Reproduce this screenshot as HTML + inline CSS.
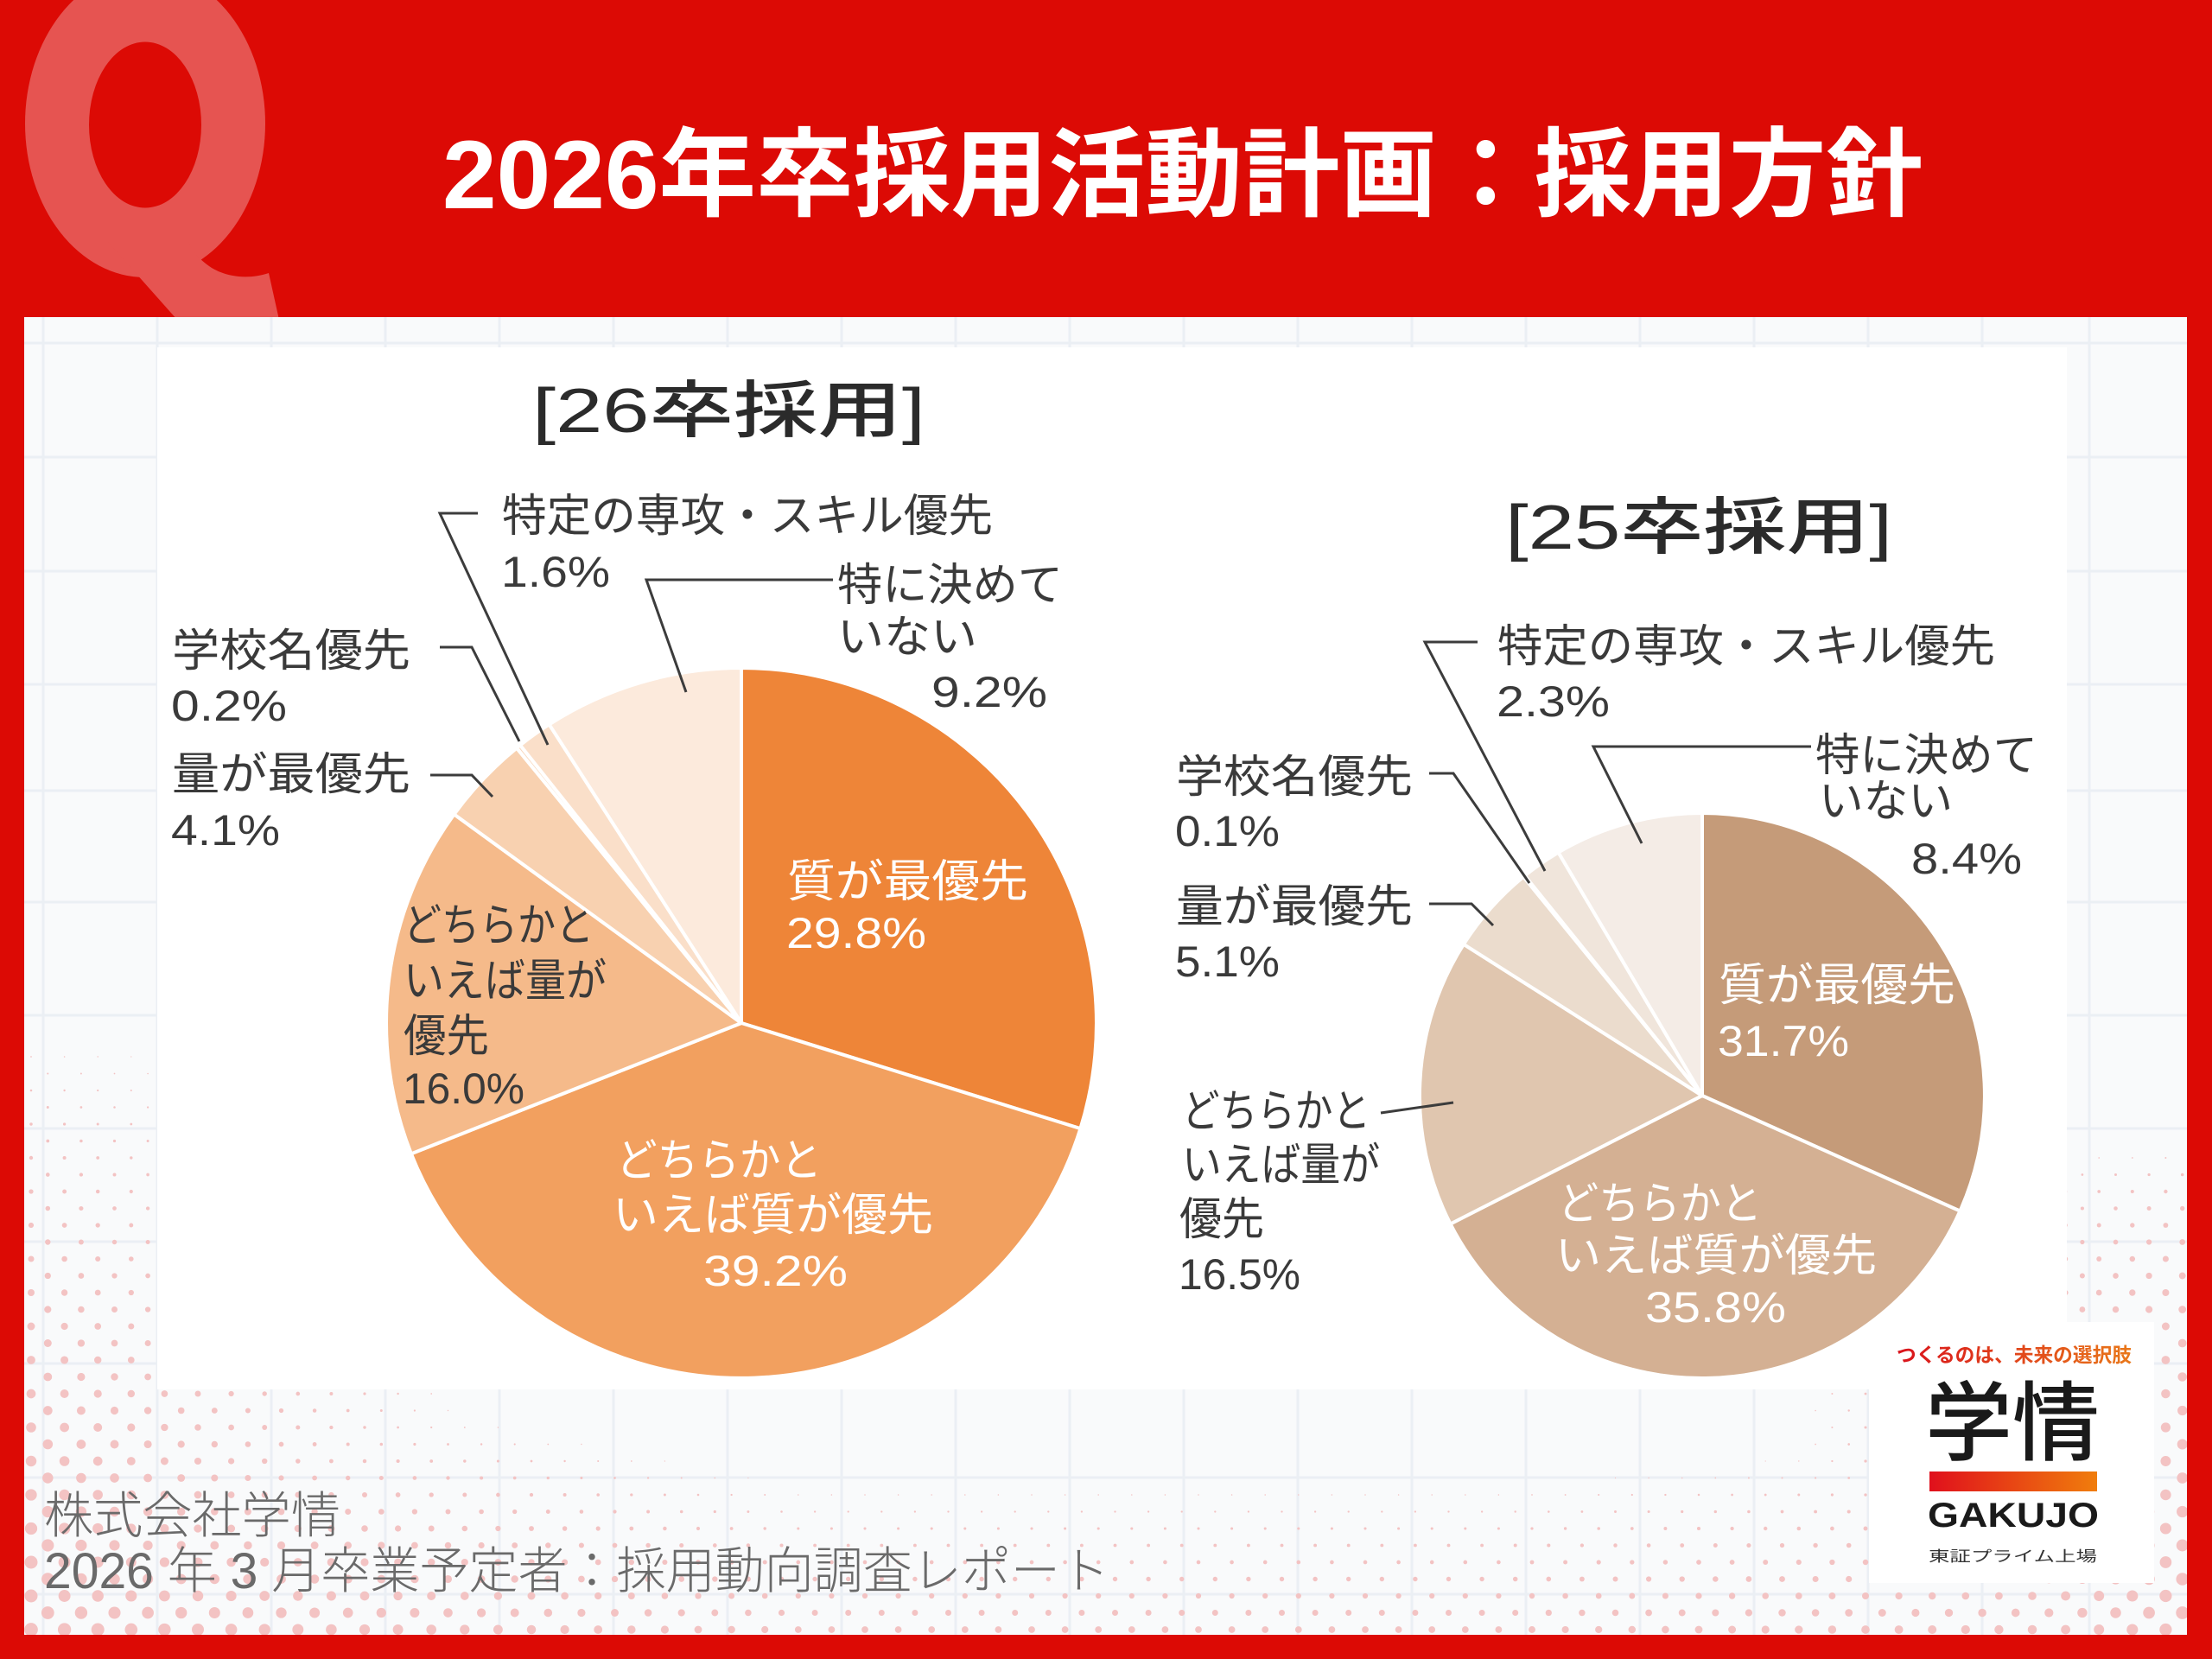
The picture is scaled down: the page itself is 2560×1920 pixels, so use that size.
<!DOCTYPE html>
<html><head><meta charset="utf-8">
<style>
html,body{margin:0;padding:0;background:#dc0a05;}
svg{display:block;}
text{font-family:"Liberation Sans","Noto Sans CJK JP",sans-serif;}
.l{font-size:52px;fill:#3a3a3a;}
.n{font-size:50px;fill:#3a3a3a;}
.w{fill:#ffffff;}
</style></head>
<body>
<svg id="s" width="2560" height="1920" viewBox="0 0 2560 1920" xmlns="http://www.w3.org/2000/svg">
<defs>
<linearGradient id="gbar" x1="0" x2="1" y1="0" y2="0"><stop offset="0" stop-color="#e0101c"/><stop offset="1" stop-color="#f07d0c"/></linearGradient>
<linearGradient id="gtag" x1="0" x2="1" y1="0" y2="0"><stop offset="0" stop-color="#d9121c"/><stop offset="1" stop-color="#e9781a"/></linearGradient>
<clipPath id="panel"><rect x="28" y="367" width="2503" height="1525"/></clipPath>
</defs>
<rect width="2560" height="1920" fill="#dc0a05"/>
<!-- Q -->
<ellipse cx="168" cy="143" rx="139" ry="178" fill="#e65451"/>
<path d="M125,280 L205,370 L323,370 L311,316 C290,323 265,322 245,310 C230,300 222,290 218,280 Z" fill="#e65451"/>
<ellipse cx="168" cy="144.5" rx="65" ry="96" fill="#dc0a05"/>
<text x="512" y="241" font-size="112" font-weight="700" fill="#ffffff" textLength="1714" lengthAdjust="spacingAndGlyphs">2026年卒採用活動計画：採用方針</text>

<!-- panel -->
<rect x="28" y="367" width="2503" height="1525" fill="#f9fafb"/>
<g clip-path="url(#panel)" stroke="#ebeff4" stroke-width="3">
<path d="M50,367V1892M182,367V1892M314,367V1892M446,367V1892M578,367V1892M710,367V1892M842,367V1892M974,367V1892M1106,367V1892M1238,367V1892M1370,367V1892M1502,367V1892M1634,367V1892M1766,367V1892M1898,367V1892M2030,367V1892M2162,367V1892M2294,367V1892M2418,367V1892"/>
<path d="M28,397H2531M28,529H2531M28,661H2531M28,792H2531M28,915H2531M28,1044H2531M28,1175H2531M28,1306H2531M28,1437H2531M28,1578H2531M28,1710H2531M28,1845H2531"/>
</g>
<g id="dots" fill="#f3c3c3" clip-path="url(#panel)"></g>

<!-- chart area -->
<rect x="182" y="402" width="2210" height="1206" fill="#ffffff"/>

<!-- Pie 1 -->
<g stroke="#ffffff" stroke-width="4" stroke-linejoin="round">
<path d="M858,1184 L858,773 A411,411 0 0 1 1250.4,1306.1 Z" fill="#ee8538"/>
<path d="M858,1184 L1250.4,1306.1 A411,411 0 0 1 475.9,1335.3 Z" fill="#f2a05f"/>
<path d="M858,1184 L475.9,1335.3 A411,411 0 0 1 525.5,942.4 Z" fill="#f5ba8a"/>
<path d="M858,1184 L525.5,942.4 A411,411 0 0 1 598,865.7 Z" fill="#f8d1b0"/>
<path d="M858,1184 L598,865.7 A411,411 0 0 1 602,862.4 Z" fill="#f9d9bf"/>
<path d="M858,1184 L602,862.4 A411,411 0 0 1 635.6,838.4 Z" fill="#fadfc9"/>
<path d="M858,1184 L635.6,838.4 A411,411 0 0 1 858,773 Z" fill="#fceadc"/>
</g>
<g stroke="#3c3c3c" stroke-width="3" fill="none">
<path d="M553,594 L509,594 L634,862"/>
<path d="M964,671 L748,671 L794,801"/>
<path d="M509,749 L546,749 L601,858"/>
<path d="M498,897 L546,897 L570,922"/>
</g>
<text x="616" y="500" font-size="72" font-weight="500" fill="#2b2b2b" textLength="455" lengthAdjust="spacingAndGlyphs">[26卒採用]</text>
<text class="l" x="581" y="615" textLength="568" lengthAdjust="spacingAndGlyphs">特定の専攻・スキル優先</text>
<text class="n" x="580" y="679" textLength="126" lengthAdjust="spacingAndGlyphs">1.6%</text>
<text class="l" x="969" y="695" textLength="261" lengthAdjust="spacingAndGlyphs">特に決めて</text>
<text class="l" x="969" y="755" textLength="162" lengthAdjust="spacingAndGlyphs">いない</text>
<text class="n" x="1078" y="818" textLength="134" lengthAdjust="spacingAndGlyphs">9.2%</text>
<text class="l" x="199" y="771" textLength="276" lengthAdjust="spacingAndGlyphs">学校名優先</text>
<text class="n" x="198" y="834" textLength="134" lengthAdjust="spacingAndGlyphs">0.2%</text>
<text class="l" x="199" y="914" textLength="276" lengthAdjust="spacingAndGlyphs">量が最優先</text>
<text class="n" x="198" y="978" textLength="126" lengthAdjust="spacingAndGlyphs">4.1%</text>
<text class="l w" x="911" y="1038" textLength="279" lengthAdjust="spacingAndGlyphs">質が最優先</text>
<text class="n w" x="910" y="1097" textLength="162" lengthAdjust="spacingAndGlyphs">29.8%</text>
<text class="l" x="467" y="1089" textLength="220" lengthAdjust="spacingAndGlyphs">どちらかと</text>
<text class="l" x="467" y="1153" textLength="235" lengthAdjust="spacingAndGlyphs">いえば量が</text>
<text class="l" x="467" y="1217" textLength="99" lengthAdjust="spacingAndGlyphs">優先</text>
<text class="n" x="466" y="1277" textLength="141" lengthAdjust="spacingAndGlyphs">16.0%</text>
<text class="l w" x="713" y="1361" textLength="238" lengthAdjust="spacingAndGlyphs">どちらかと</text>
<text class="l w" x="709" y="1424" textLength="371" lengthAdjust="spacingAndGlyphs">いえば質が優先</text>
<text class="n w" x="814" y="1488" textLength="167" lengthAdjust="spacingAndGlyphs">39.2%</text>

<!-- Pie 2 -->
<g stroke="#ffffff" stroke-width="4" stroke-linejoin="round">
<path d="M1970,1268 L1970,941 A327,327 0 0 1 2268.4,1401.6 Z" fill="#c59b79"/>
<path d="M1970,1268 L2268.4,1401.6 A327,327 0 0 1 1678.6,1416.5 Z" fill="#d4b093"/>
<path d="M1970,1268 L1678.6,1416.5 A327,327 0 0 1 1693.9,1092.8 Z" fill="#e0c6af"/>
<path d="M1970,1268 L1693.9,1092.8 A327,327 0 0 1 1763.2,1014.7 Z" fill="#ebdccd"/>
<path d="M1970,1268 L1763.2,1014.7 A327,327 0 0 1 1764.7,1013.4 Z" fill="#eee1d5"/>
<path d="M1970,1268 L1764.7,1013.4 A327,327 0 0 1 1803.5,986.5 Z" fill="#f0e5db"/>
<path d="M1970,1268 L1803.5,986.5 A327,327 0 0 1 1970,941 Z" fill="#f4ece6"/>
</g>
<g stroke="#3c3c3c" stroke-width="3" fill="none">
<path d="M1710,743 L1649,743 L1788,1008"/>
<path d="M2096,864 L1844,864 L1900,976"/>
<path d="M1654,895 L1682,895 L1770,1022"/>
<path d="M1654,1046 L1703,1046 L1728,1071"/>
<path d="M1598,1288 L1682,1276"/>
</g>
<text x="1742" y="635" font-size="72" font-weight="500" fill="#2b2b2b" textLength="448" lengthAdjust="spacingAndGlyphs">[25卒採用]</text>
<text class="l" x="1733" y="766" textLength="576" lengthAdjust="spacingAndGlyphs">特定の専攻・スキル優先</text>
<text class="n" x="1732" y="829" textLength="131" lengthAdjust="spacingAndGlyphs">2.3%</text>
<text class="l" x="2101" y="892" textLength="257" lengthAdjust="spacingAndGlyphs">特に決めて</text>
<text class="l" x="2105" y="945" textLength="155" lengthAdjust="spacingAndGlyphs">いない</text>
<text class="n" x="2212" y="1011" textLength="128" lengthAdjust="spacingAndGlyphs">8.4%</text>
<text class="l" x="1361" y="917" textLength="274" lengthAdjust="spacingAndGlyphs">学校名優先</text>
<text class="n" x="1360" y="979" textLength="121" lengthAdjust="spacingAndGlyphs">0.1%</text>
<text class="l" x="1361" y="1067" textLength="274" lengthAdjust="spacingAndGlyphs">量が最優先</text>
<text class="n" x="1360" y="1130" textLength="121" lengthAdjust="spacingAndGlyphs">5.1%</text>
<text class="l" x="1368" y="1304" textLength="218" lengthAdjust="spacingAndGlyphs">どちらかと</text>
<text class="l" x="1368" y="1366" textLength="229" lengthAdjust="spacingAndGlyphs">いえば量が</text>
<text class="l" x="1365" y="1429" textLength="98" lengthAdjust="spacingAndGlyphs">優先</text>
<text class="n" x="1364" y="1492" textLength="141" lengthAdjust="spacingAndGlyphs">16.5%</text>
<text class="l w" x="1989" y="1158" textLength="274" lengthAdjust="spacingAndGlyphs">質が最優先</text>
<text class="n w" x="1988" y="1222" textLength="152" lengthAdjust="spacingAndGlyphs">31.7%</text>
<text class="l w" x="1803" y="1411" textLength="236" lengthAdjust="spacingAndGlyphs">どちらかと</text>
<text class="l w" x="1800" y="1471" textLength="372" lengthAdjust="spacingAndGlyphs">いえば質が優先</text>
<text class="n w" x="1904" y="1530" textLength="163" lengthAdjust="spacingAndGlyphs">35.8%</text>

<!-- footer -->
<text x="51" y="1774" font-size="58" font-weight="300" fill="#6a6a6a" textLength="343" lengthAdjust="spacingAndGlyphs">株式会社学情</text>
<text x="51" y="1838" font-size="58" font-weight="300" fill="#6a6a6a" textLength="1233" lengthAdjust="spacingAndGlyphs">2026 年 3 月卒業予定者：採用動向調査レポート</text>

<!-- logo -->
<rect x="2163" y="1530" width="330" height="302" fill="#ffffff"/>
<text x="2195" y="1576" font-size="23" font-weight="700" fill="url(#gtag)" textLength="272" lengthAdjust="spacingAndGlyphs">つくるのは、未来の選択肢</text>
<text x="2228" y="1682" font-size="100" font-weight="500" fill="#1a1a1a" textLength="202" lengthAdjust="spacingAndGlyphs">学情</text>
<rect x="2233" y="1703" width="194" height="23" fill="url(#gbar)"/>
<text x="2231" y="1767" font-size="40" font-weight="700" fill="#1a1a1a" textLength="198" lengthAdjust="spacingAndGlyphs">GAKUJO</text>
<text x="2232" y="1807" font-size="17" fill="#333333" textLength="195" lengthAdjust="spacingAndGlyphs">東証プライム上場</text>
</svg>
<script>
(function(){
var g=document.getElementById('dots');var ns='http://www.w3.org/2000/svg';
function c(v){return v<0?0:(v>1?1:v);}
for(var j=0;j<90;j++){
  var y=1886-19.5*j; if(y<370)break;
  var off=(j%2)*19.3;
  for(var x=36+off;x<2531;x+=38.6){
    var fl=c(1-(x-28)/900), fr=c(1-(2531-x)/800);
    var base=4+4*fl+1.8*fr;
    var ext=200+200*fl+80*fr;
    var rb=base*c(1-(1892-y)/ext);
    var rl=7.6*c(1-(x-28)/560)*c((y-1150)/650);
    var rr=7.5*Math.sqrt(c((y-1330)/520))*c(1-(2531-x)/500);
    var r=Math.max(rb,rl,rr);
    if(r>0.6){
      var e=document.createElementNS(ns,'circle');
      e.setAttribute('cx',x.toFixed(1));e.setAttribute('cy',y.toFixed(1));e.setAttribute('r',r.toFixed(2));
      g.appendChild(e);
    }
  }
}
})();
</script>
</body></html>
